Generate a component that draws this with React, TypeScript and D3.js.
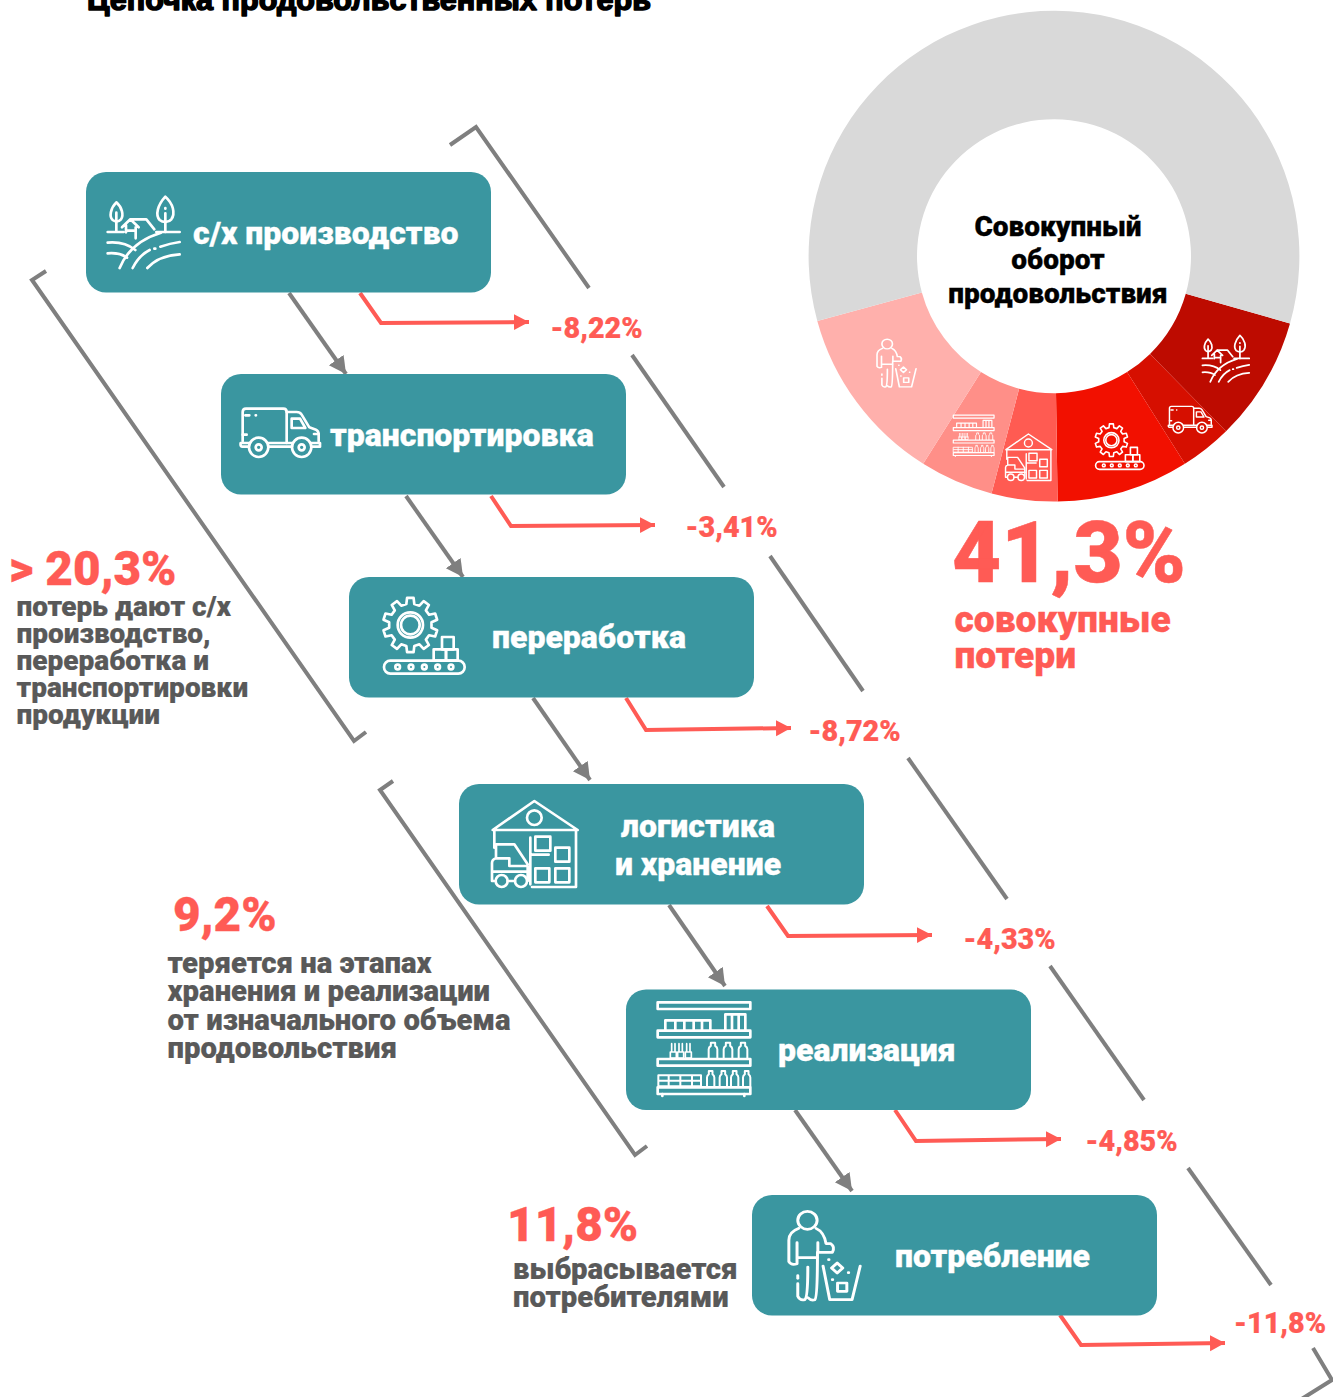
import React from "react";
import * as d3 from "d3";

const stages = ["с/х производство", "транспортировка", "переработка", "логистика|и хранение", "реализация", "потребление"];
const lossValues = [8.22, 3.41, 8.72, 4.33, 4.85, 11.8];
const lossLabels = ["-8,22%", "-3,41%", "-8,72%", "-4,33%", "-4,85%", "-11,8%"];
const lossColors = ["#BD0B00", "#D60F00", "#F21000", "#FF5B52", "#FF8F88", "#FFB0AC"];
const restValue = 58.67;
const restColor = "#D9D9D9";
const centerLines = ["Совокупный", "оборот", "продовольствия"];
const totalLabel = "41,3%";
const totalLines = ["совокупные", "потери"];
const title = "Цепочка продовольственных потерь";

const TEAL = "#3A96A0", RED = "#FF5B55", GREY = "#7F7F7F", DARK = "#595959";
const FONT = "Roboto, sans-serif";

// box layout: left, top
const boxes = [[86, 172], [221, 374], [349, 577], [459, 784], [626, 989.5], [752, 1195]];
const BW = 405, BH = 120.5;
const labelLayout = [
  { x: 193, y: 244, a: "start" }, { x: 330, y: 446, a: "start" }, { x: 492, y: 648, a: "start" },
  { x: 698, y: 837, a: "middle" }, { x: 778, y: 1061, a: "start" }, { x: 895, y: 1267, a: "start" },
];
const lossText = [[550.5, 338], [685.5, 537], [808.5, 741], [963.5, 949], [1085.5, 1151], [1234, 1333]];
const greyArrows = [[289, 293, 346, 374], [406, 496, 463, 577], [533, 698, 590, 780], [669, 905, 725, 986], [795, 1110, 852, 1191]];
const redArrows = [
  [360, 293, 381, 323, 529, 322], [491, 496, 511, 526, 655, 525], [626, 698, 646, 730, 791, 728],
  [767, 906, 788, 936, 932, 935], [895, 1110, 916, 1141, 1061, 1139], [1060, 1315, 1081, 1345, 1225, 1343],
];
const bracketPaths = [
  "M450 145L476 127L589 288", "M632 355L724 487", "M770 556L863 691", "M908 758L1007 899", "M1050 966L1144 1100",
  "M1188 1168L1271 1285", "M1313 1348L1332 1380L1300 1400",
  "M46 271L32 280L354 741L366 732", "M393 781L380 790L635 1155L647 1146",
];

const S = { fill: "none", stroke: "#fff", strokeWidth: 8, strokeLinecap: "round" as const, strokeLinejoin: "round" as const };

function gearPath(cx: number, cy: number, r1: number, r2: number, n: number) {
  const out: string[] = [];
  const step = (Math.PI * 2) / n;
  for (let i = 0; i < n; i++) {
    const a = i * step - Math.PI / 2;
    const pts: [number, number][] = [[r1, a - step * 0.3], [r2, a - step * 0.19], [r2, a + step * 0.19], [r1, a + step * 0.3]];
    pts.forEach(([r, t]) => out.push(`${cx + r * Math.cos(t)} ${cy + r * Math.sin(t)}`));
  }
  return "M" + out.join("L") + "Z";
}

function bottle(x: number, base: number, w: number, h: number) {
  const n = h * 0.3;
  return `M${x} ${base}V${base - h + n + 6}Q${x} ${base - h + n} ${x + w * 0.25} ${base - h + n - 4}V${base - h}H${x + w * 0.75}V${base - h + n - 4}Q${x + w} ${base - h + n} ${x + w} ${base - h + n + 6}V${base}`;
}

function FarmIcon() {
  return (
    <g {...S}>
      <path d="M108 97C90 115 86 140 97 150C105 156 115 156 122 148C131 135 125 112 108 97Z" />
      <path d="M108 128V182" />
      <path d="M255 80C232 105 224 135 238 150C248 158 265 158 273 148C286 130 278 100 255 80Z" />
      <path d="M255 130V186M255 114V116" />
      <path d="M125 172L150 148H198L222 178M150 148L175 172M137 166V187M166 172V205M137 182H160" />
      <path d="M82 186H130M228 186H298" />
      <path d="M118 294C140 240 182 206 242 188" />
      <path d="M82 218C115 215 145 224 165 240M82 250C105 248 125 252 140 263" />
      <path d="M157 294C170 268 188 250 208 240M222 236H225M240 230C258 224 278 219 298 216" />
      <path d="M201 294C225 268 258 255 298 253" />
    </g>
  );
}
function TruckIcon() {
  return (
    <g {...S}>
      <path d="M68 200V112Q68 102 78 102H190Q200 102 200 112V205" />
      <path d="M200 112H230Q240 112 245 120L268 158L288 165Q296 168 296 180V200" />
      <path d="M215 132H240L256 160H215Z" />
      <path d="M85 216H68Q60 216 62 205H90M145 205H218M272 205H300V216H277M145 216H216" />
      <circle cx={116} cy={218} r={29} /><circle cx={116} cy={218} r={9} />
      <circle cx={245} cy={218} r={29} /><circle cx={245} cy={218} r={9} />
      <path d="M76 122H88M107 122H108M68 180H80M282 178H296" />
    </g>
  );
}
function GearIcon() {
  return (
    <g {...S}>
      <path d={gearPath(570, 751, 64, 82, 10)} />
      <circle cx={570} cy={751} r={38} /><circle cx={570} cy={751} r={28} />
      <rect x={665} y={787} width={35} height={37} />
      <rect x={640} y={824} width={37} height={34} />
      <rect x={677} y={824} width={35} height={34} />
      <rect x={491} y={858} width={242} height={39} rx={19} />
      {[532, 572, 612, 652, 692].map((x) => <circle key={x} cx={x} cy={877} r={7} />)}
    </g>
  );
}
function WarehouseIcon() {
  return (
    <g {...S}>
      <path d="M100 137L225 50L355 137Z" />
      <path d="M105 140V190M350 140V308H218" />
      <circle cx={225} cy={100} r={22} />
      <rect x={228} y={157} width={45} height={42} />
      <rect x={288} y={190} width={42} height={42} />
      <rect x={228} y={252} width={42} height={42} />
      <rect x={288} y={252} width={42} height={42} />
      <path d="M213 160V300M218 211H268" />
      <path d="M105 290H98V236Q98 226 110 222V180H165L205 240M110 222H150V245H205V290M98 262H208" />
      <circle cx={127} cy={290} r={18} /><circle cx={185} cy={290} r={18} />
      <path d="M145 290H167" />
    </g>
  );
}
function ShelfIcon() {
  return (
    <g {...S}>
      <rect x={592} y={651} width={278} height={20} />
      <rect x={592} y={736} width={278} height={20} />
      <rect x={592} y={821} width={278} height={20} />
      <rect x={592} y={906} width={278} height={20} />
      <path d="M615 733V705H750V733M645 705V733M672 705V733M700 705V733M725 705V733" />
      <path d="M795 733V687H855V733M815 687V733M835 687V733" />
      {[630, 652, 675].map((x) => <path key={x} d={`M${x} 818V800M${x + 4} 800V775M${x + 14} 800V775M${x + 18} 800V818H${x}M${x} 800H${x + 18}`} strokeWidth={5} />)}
      {[745, 790, 835].map((x) => <path key={x} d={bottle(x, 818, 26, 46)} strokeWidth={6} />)}
      <path d="M594 870H722V903H594ZM594 886H722M625 870V903M660 870V903M695 870V903" strokeWidth={6} />
      {[740, 778, 812, 848].map((x) => <path key={x} d={bottle(x, 903, 22, 46)} strokeWidth={6} />)}
      <path d="M606 926V932M852 926V932" />
    </g>
  );
}
function PersonIcon() {
  return (
    <g {...S}>
      <ellipse cx={155} cy={90} rx={26} ry={27} />
      <path d="M132 114Q105 125 105 150V214Q112 226 127 220V157" />
      <path d="M178 114Q200 125 205 160H218Q230 170 222 186H183V157" />
      <path d="M129 202H181" />
      <path d="M129 280V318Q135 332 148 328Q156 322 156 230M156 322Q165 332 175 328Q182 322 182 186" />
      <path d="M129 256V264" />
      <path d="M197 227L215 328H275L297 227" />
      <path d="M235 218L250 233L235 248L220 233Z" />
      <rect x={236} y={278} width={25} height={25} />
      <path d="M212 208H213M265 247H266M222 268H223" />
    </g>
  );
}
const iconDefs = [
  { C: FarmIcon, ox: 80, oy: 78 }, { C: TruckIcon, ox: 60, oy: 100 }, { C: GearIcon, ox: 488, oy: 670 },
  { C: WarehouseIcon, ox: 95, oy: 50 }, { C: ShelfIcon, ox: 590, oy: 650 }, { C: PersonIcon, ox: 100, oy: 62 },
];
const boxIcons = [[107, 196, 1, 1], [240, 408, 1, 1], [383, 598, 1, 1], [491, 801, 1, 1], [657, 1002, 1, 1], [787, 1211, 1.115, 1]];
const donutIcons = [[1202, 335, 0.65, 0.65], [1168, 406, 0.55, 0.55], [1095, 424, 0.6, 0.6], [1005, 434, 0.54, 0.54], [953, 415, 0.44, 0.44], [876, 339, 0.61, 0.54]];

function Icon({ i, x, y, s = 1, sy = 1 }: { i: number; x: number; y: number; s?: number; sy?: number }) {
  const { C, ox, oy } = iconDefs[i];
  return <g transform={`translate(${x} ${y}) scale(${s / 3} ${sy / 3}) translate(${-ox} ${-oy})`}><C /></g>;
}

const DEG = Math.PI / 180;
const pie = d3.pie<number>().sort(null).startAngle(105.9 * DEG).endAngle(465.9 * DEG);
const arc = d3.arc<d3.PieArcDatum<number>>().innerRadius(137).outerRadius(245.4);
const slices = pie([...lossValues, restValue]);
const sliceColors = [...lossColors, restColor];

function heavy(color: string, w: number) {
  return { fill: color, stroke: color, strokeWidth: w, strokeLinejoin: "round" as const };
}

export default function App() {
  return (
    <svg width={1333} height={1397} style={{ position: "absolute", left: 0, top: 0, display: "block", background: "#fff" }} fontFamily={FONT}>
      <defs>
        <marker id="ag" markerUnits="userSpaceOnUse" markerWidth={18} markerHeight={20} refX={17} refY={9} orient="auto">
          <path d="M0 0L17 9L0 18Z" fill={GREY} />
        </marker>
        <marker id="ar" markerUnits="userSpaceOnUse" markerWidth={16} markerHeight={18} refX={15} refY={8} orient="auto">
          <path d="M0 0L15 8L0 16Z" fill={RED} />
        </marker>
      </defs>

      <text x={87} y={9.5} fontFamily="Liberation Sans, sans-serif" fontWeight={700} fontSize={29} textLength={564} lengthAdjust="spacingAndGlyphs" {...heavy("#000", 1.5)}>{title}</text>

      {bracketPaths.map((d, i) => <path key={i} d={d} fill="none" stroke={GREY} strokeWidth={4} />)}

      <g transform="translate(1054 256.2)">
        {slices.map((s, i) => <path key={i} d={arc(s) || ""} fill={sliceColors[i]} />)}
      </g>
      {donutIcons.map(([x, y, s, sy], i) => <Icon key={i} i={i} x={x} y={y} s={s} sy={sy} />)}
      {centerLines.map((t, i) => (
        <text key={t} x={1058} y={235.5 + i * 33.5} textAnchor="middle" fontSize={28} fontWeight={900} fill="#000" stroke="#000" strokeWidth={0.3}>{t}</text>
      ))}
      <text x={952} y={582} fontSize={85} fontWeight={900} {...heavy(RED, 0.5)}>{totalLabel}</text>
      {totalLines.map((t, i) => (
        <text key={t} x={954.5} y={632 + i * 36} fontSize={37.2} fontWeight={900} {...heavy(RED, 0.3)}>{t}</text>
      ))}

      {greyArrows.map(([a, b, c, d], i) => (
        <line key={i} x1={a} y1={b} x2={c} y2={d} stroke={GREY} strokeWidth={4} markerEnd="url(#ag)" />
      ))}
      {redArrows.map((p, i) => (
        <path key={i} d={`M${p[0]} ${p[1]}L${p[2]} ${p[3]}L${p[4]} ${p[5]}`} fill="none" stroke={RED} strokeWidth={4} markerEnd="url(#ar)" />
      ))}

      {boxes.map(([x, y], i) => <rect key={i} x={x} y={y} width={BW} height={BH} rx={20} fill={TEAL} />)}
      {boxIcons.map(([x, y, s, sy], i) => <Icon key={i} i={i} x={x} y={y} s={s} sy={sy} />)}
      {stages.map((t, i) => {
        const l = labelLayout[i];
        return t.split("|").map((line, j) => (
          <text key={line} x={l.x} y={l.y + j * 38} textAnchor={l.a as "start" | "middle"} fontSize={32} fontWeight={900} {...heavy("#fff", 0.3)}>{line}</text>
        ));
      })}
      {lossLabels.map((t, i) => (
        <text key={t} x={lossText[i][0]} y={lossText[i][1]} fontSize={28.8} fontWeight={900} {...heavy(RED, 0.2)}>{t}</text>
      ))}

      <text x={9} y={585} fontSize={47.7} fontWeight={900} {...heavy(RED, 0.3)}>{"> 20,3%"}</text>
      {["потерь дают с/х", "производство,", "переработка и", "транспортировки", "продукции"].map((t, i) => (
        <text key={t} x={16.5} y={616 + i * 27} fontSize={28} fontWeight={900} {...heavy(DARK, 0.2)}>{t}</text>
      ))}
      <text x={173} y={931} fontSize={47.7} fontWeight={900} {...heavy(RED, 0.3)}>9,2%</text>
      {["теряется на этапах", "хранения и реализации", "от изначального объема", "продовольствия"].map((t, i) => (
        <text key={t} x={167.5} y={973 + i * 28.3} fontSize={29.3} fontWeight={900} {...heavy(DARK, 0.2)}>{t}</text>
      ))}
      <text x={507} y={1241} fontSize={47.7} fontWeight={900} {...heavy(RED, 0.3)}>11,8%</text>
      {["выбрасывается", "потребителями"].map((t, i) => (
        <text key={t} x={513} y={1279 + i * 28} fontSize={29.3} fontWeight={900} {...heavy(DARK, 0.2)}>{t}</text>
      ))}
    </svg>
  );
}
